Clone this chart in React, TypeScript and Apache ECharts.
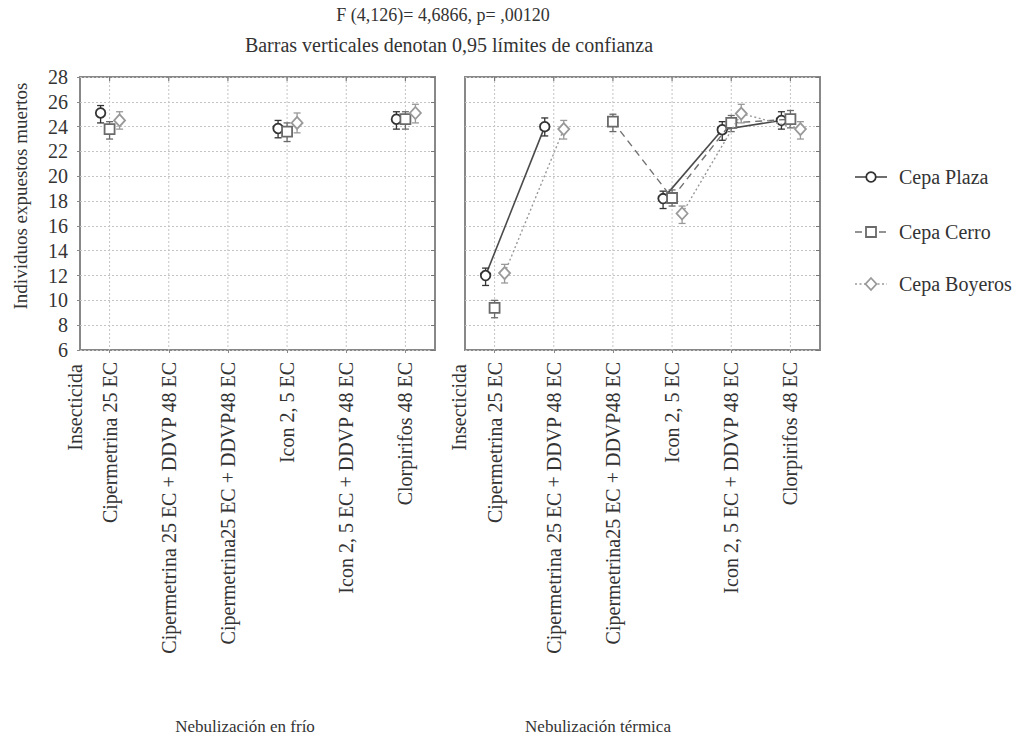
import React, { useEffect, useRef } from "react";
import * as echarts from "echarts";

const categories = [
  "Cipermetrina 25 EC",
  "Cipermetrina 25 EC + DDVP 48 EC",
  "Cipermetrina25 EC + DDVP48 EC",
  "Icon 2, 5 EC",
  "Icon 2, 5 EC + DDVP 48 EC",
  "Clorpirifos 48 EC",
];
const yMin = 6;
const yMax = 28;
const yStep = 2;

// Nebulización en frío
const plazaFrio = [25.1, null, null, 23.85, null, 24.6];
const plazaFrioLow = [24.3, null, null, 23.1, null, 23.8];
const plazaFrioHigh = [25.7, null, null, 24.5, null, 25.2];
const cerroFrio = [23.8, null, null, 23.6, null, 24.6];
const cerroFrioLow = [23.0, null, null, 22.8, null, 23.8];
const cerroFrioHigh = [24.4, null, null, 24.3, null, 25.2];
const boyerosFrio = [24.5, null, null, 24.3, null, 25.1];
const boyerosFrioLow = [23.8, null, null, 23.5, null, 24.3];
const boyerosFrioHigh = [25.2, null, null, 25.1, null, 25.8];

// Nebulización térmica
const plazaTerm = [12.0, 24.0, null, 18.2, 23.75, 24.5];
const plazaTermLow = [11.2, 23.25, null, 17.4, 22.9, 23.8];
const plazaTermHigh = [12.6, 24.7, null, 18.8, 24.4, 25.2];
const cerroTerm = [9.4, null, 24.4, 18.25, 24.3, 24.6];
const cerroTermLow = [8.6, null, 23.6, 17.6, 23.6, 23.9];
const cerroTermHigh = [10.0, null, 25.0, 18.9, 24.9, 25.3];
const boyerosTerm = [12.2, 23.8, null, 17.0, 25.05, 23.8];
const boyerosTermLow = [11.4, 23.0, null, 16.2, 24.3, 23.0];
const boyerosTermHigh = [12.9, 24.5, null, 17.6, 25.8, 24.4];

const legendNames = ["Cepa Plaza", "Cepa Cerro", "Cepa Boyeros"];
const panelTitles = ["Nebulización en frío", "Nebulización térmica"];
const xAxisName = "Insecticida";
const yAxisName = "Individuos expuestos muertos";
const statLine = "F (4,126)= 4,6866, p= ,00120";
const subtitle = "Barras verticales denotan 0,95 límites de confianza";

const FONT = "Liberation Serif";

const styles = [
  { marker: "circle", color: "#333", line: "#4a4a4a", dash: null as null | number[], width: 1.6, off: -9 },
  { marker: "square", color: "#6a6a6a", line: "#707070", dash: [7, 5], width: 1.4, off: 0 },
  { marker: "diamond", color: "#999", line: "#999", dash: [2, 2.5], width: 1.4, off: 10 },
];

function buildItems(vals: (number | null)[], lo: (number | null)[], hi: (number | null)[]) {
  const out: number[][] = [];
  vals.forEach((v, i) => {
    if (v == null) return;
    const nv = i + 1 < vals.length && vals[i + 1] != null ? (vals[i + 1] as number) : -1;
    out.push([i, v, lo[i] as number, hi[i] as number, nv]);
  });
  return out;
}

function markerShape(kind: string, x: number, y: number, color: string) {
  const style = { fill: "#fff", stroke: color, lineWidth: 1.8 };
  if (kind === "circle") return { type: "circle", shape: { cx: x, cy: y, r: 4.8 }, style };
  if (kind === "square")
    return { type: "rect", shape: { x: x - 5, y: y - 5, width: 10, height: 10 }, style };
  return {
    type: "polygon",
    shape: { points: [[x, y - 6], [x + 5.5, y], [x, y + 6], [x - 5.5, y]] },
    style,
  };
}

function makeSeries(data: number[][], si: number, gi: number) {
  const st = styles[si];
  return {
    type: "custom",
    xAxisIndex: gi,
    yAxisIndex: gi,
    z: 5 + si,
    data,
    encode: { x: 0, y: 1 },
    renderItem: (params: any, api: any) => {
      const i = api.value(0);
      const v = api.value(1);
      const lo = api.value(2);
      const hi = api.value(3);
      const nv = api.value(4);
      const p = api.coord([i, v]);
      const x = p[0] + st.off;
      const y = p[1];
      const children: any[] = [];
      if (typeof nv === "number" && !isNaN(nv) && nv > 0) {
        const q = api.coord([i + 1, nv]);
        children.push({
          type: "line",
          shape: { x1: x, y1: y, x2: q[0] + st.off, y2: q[1] },
          style: { stroke: st.line, lineWidth: st.width, lineDash: st.dash || undefined },
        });
      }
      const yl = api.coord([i, lo])[1];
      const yh = api.coord([i, hi])[1];
      const eb = { stroke: st.color, lineWidth: 1.3 };
      children.push({ type: "line", shape: { x1: x, y1: yh, x2: x, y2: yl }, style: eb });
      children.push({ type: "line", shape: { x1: x - 3.5, y1: yh, x2: x + 3.5, y2: yh }, style: eb });
      children.push({ type: "line", shape: { x1: x - 3.5, y1: yl, x2: x + 3.5, y2: yl }, style: eb });
      children.push(markerShape(st.marker, x, y, st.color));
      return { type: "group", children };
    },
  };
}

function gridLinesSeries(gi: number) {
  return {
    type: "custom",
    xAxisIndex: gi,
    yAxisIndex: gi,
    z: 1,
    silent: true,
    data: categories.map((_, i) => [i, yMin]),
    encode: { x: 0, y: 1 },
    renderItem: (params: any, api: any) => {
      const cs = params.coordSys;
      const x = api.coord([api.value(0), yMin])[0];
      return {
        type: "group",
        children: [
          {
            type: "line",
            shape: { x1: x, y1: cs.y, x2: x, y2: cs.y + cs.height },
            style: { stroke: "#c4c4c4", lineWidth: 1, lineDash: [2, 2] },
          },
          {
            type: "line",
            shape: { x1: x, y1: cs.y, x2: x, y2: cs.y + 4 },
            style: { stroke: "#777", lineWidth: 1.2 },
          },
        ],
      };
    },
  };
}

function txt(text: string, x: number, y: number, size: number, align: string, rotation = 0) {
  return {
    type: "text",
    x,
    y,
    rotation,
    style: {
      text,
      fontFamily: FONT,
      fontSize: size,
      fill: "#333",
      align,
      verticalAlign: "middle",
    },
  };
}

function buildOption() {
  const gridLefts = [80, 465];
  const panels = [
    [
      buildItems(plazaFrio, plazaFrioLow, plazaFrioHigh),
      buildItems(cerroFrio, cerroFrioLow, cerroFrioHigh),
      buildItems(boyerosFrio, boyerosFrioLow, boyerosFrioHigh),
    ],
    [
      buildItems(plazaTerm, plazaTermLow, plazaTermHigh),
      buildItems(cerroTerm, cerroTermLow, cerroTermHigh),
      buildItems(boyerosTerm, boyerosTermLow, boyerosTermHigh),
    ],
  ];
  const series: any[] = [];
  panels.forEach((pd, gi) => {
    series.push(gridLinesSeries(gi));
    pd.forEach((d, si) => series.push(makeSeries(d, si, gi)));
  });

  const legendY = [177, 232, 284];
  const legendGraphics: any[] = [];
  styles.forEach((st, i) => {
    const y = legendY[i];
    legendGraphics.push({
      type: "line",
      shape: { x1: 855, y1: y, x2: 887, y2: y },
      style: { stroke: st.line, lineWidth: st.width, lineDash: st.dash || undefined },
    });
    legendGraphics.push({ ...markerShape(st.marker, 871, y, st.color) });
    legendGraphics.push(txt(legendNames[i], 899, y, 20, "left"));
  });

  const texts: any[] = [
    txt(statLine, 443, 15, 18, "center"),
    txt(subtitle, 449, 45, 20, "center"),
    txt(yAxisName, 20, 196, 19, "center", Math.PI / 2),
    txt(xAxisName, 75, 364, 20, "right", Math.PI / 2),
    txt(xAxisName, 459, 364, 20, "right", Math.PI / 2),
    txt(panelTitles[0], 245, 726, 17, "center"),
    txt(panelTitles[1], 598, 726, 17, "center"),
  ];

  const valueAxis = (gi: number, extra: any) => ({
    type: "value",
    gridIndex: gi,
    min: yMin,
    max: yMax,
    interval: yStep,
    axisLine: { show: false },
    ...extra,
  });

  return {
    animation: false,
    grid: gridLefts.map((left) => ({
      left,
      top: 77,
      width: 355,
      height: 273,
      show: true,
      borderColor: "#888",
      borderWidth: 2,
      backgroundColor: "#fff",
    })),
    xAxis: gridLefts.map((_, gi) => ({
      type: "category",
      gridIndex: gi,
      data: categories,
      boundaryGap: true,
      axisLine: { show: false },
      axisTick: { show: true, alignWithLabel: true, length: 3, lineStyle: { color: "#888" } },
      axisLabel: { rotate: 90, interval: 0, fontSize: 20, fontFamily: FONT, color: "#333", margin: 12 },
      splitLine: { show: false },
    })),
    yAxis: [
      valueAxis(0, {
        axisTick: { show: true, length: 3, lineStyle: { color: "#888" } },
        axisLabel: { fontSize: 20, fontFamily: FONT, color: "#333", margin: 12 },
        splitLine: { show: true, lineStyle: { type: [2, 2], color: "#c4c4c4" } },
      }),
      valueAxis(1, {
        axisTick: { show: false },
        axisLabel: { show: false },
        splitLine: { show: true, lineStyle: { type: [2, 2], color: "#c4c4c4" } },
      }),
      valueAxis(0, {
        position: "right",
        axisTick: { show: true, inside: true, length: 4, lineStyle: { color: "#777" } },
        axisLabel: { show: false },
        splitLine: { show: false },
      }),
      valueAxis(1, {
        position: "right",
        axisTick: { show: true, inside: true, length: 4, lineStyle: { color: "#777" } },
        axisLabel: { show: false },
        splitLine: { show: false },
      }),
    ],
    series,
    graphic: [...texts, ...legendGraphics],
  };
}

export default function App() {
  const ref = useRef<HTMLDivElement>(null);
  useEffect(() => {
    if (!ref.current) return;
    const chart = echarts.init(ref.current, undefined, { renderer: "svg" });
    chart.setOption(buildOption() as any);
    return () => chart.dispose();
  }, []);
  return <div ref={ref} style={{ width: 1021, height: 736, position: "absolute", left: 0, top: 0 }} />;
}
